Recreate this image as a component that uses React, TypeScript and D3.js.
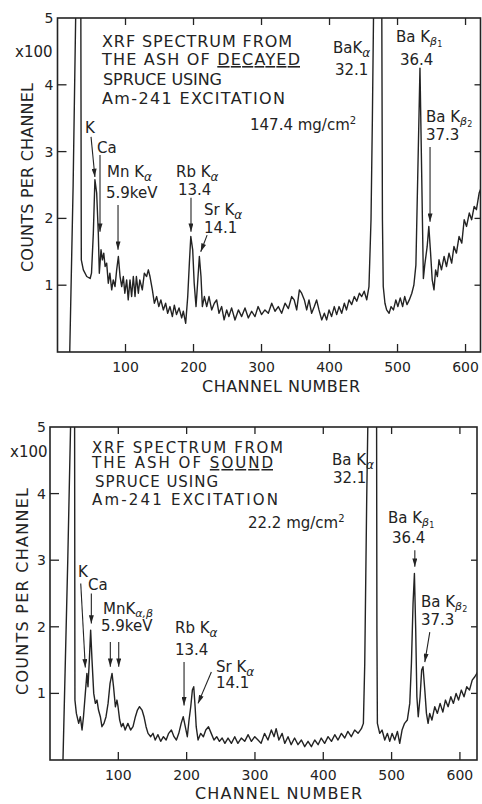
import React from "react";
import * as d3 from "d3";

// channel numbers on the x axis, counts (x100) on the y axis
const xTicks = [100, 200, 300, 400, 500, 600];
const yTicks = [1, 2, 3, 4, 5];

// decayed spruce ash, 147.4 mg/cm2  [channel, counts x100]
const decayedSpectrum: [number, number][] = [
  [18, 0], [23, 2.5], [27, 5.2], [30.5, 9], [34.3, 5.2], [35, 1.38], [38, 1.23], [43, 1.13], [48, 1.1],
  [50, 1.18], [52.7, 1.78], [55, 2.58], [57.6, 2.38], [59, 2.03], [60, 1.78], [61.5, 1.18], [64, 1.53],
  [66, 1.38], [68, 1.48], [70, 1.28], [72.3, 1.33], [74.7, 1.03], [77, 1.18], [79.7, 0.93], [82, 1.08],
  [84.6, 0.98], [87, 1.23], [89.5, 1.43], [92, 1.13], [94.4, 0.98], [96.8, 1.13], [99, 0.88], [101.7, 1.08],
  [104, 0.78], [106.6, 1.08], [109, 0.83], [111.5, 1.13], [114, 0.83], [116, 1.13], [118.9, 0.88],
  [121, 1.08], [124.7, 0.93], [127.7, 1.18], [131, 1.13], [133.6, 1.23], [136, 1.13], [139.5, 0.93],
  [142.4, 0.73], [145.8, 0.83], [149, 0.68], [152, 0.78], [155.6, 0.63], [159, 0.73], [162, 0.58],
  [165.4, 0.68], [168.9, 0.53], [171.8, 0.7], [175, 0.56], [178.7, 0.66], [182.6, 0.51], [185, 0.61],
  [188.5, 0.43], [191.5, 0.83], [193.9, 1.33], [196, 1.73], [198.8, 1.53], [201, 1.03], [203.7, 0.68],
  [206, 1.03], [208.6, 1.43], [211, 1.13], [213, 0.68], [216, 0.83], [219.4, 0.68], [222.8, 0.83],
  [226.7, 0.63], [230.6, 0.73], [234, 0.78], [237.5, 0.58], [241.4, 0.68], [245, 0.48], [248.8, 0.63],
  [252, 0.53], [256, 0.66], [261, 0.48], [266, 0.63], [270.8, 0.53], [275.7, 0.66], [280.6, 0.51],
  [285.5, 0.61], [290.4, 0.53], [295, 0.68], [300, 0.56], [305, 0.63], [310, 0.58], [315, 0.73],
  [319.8, 0.61], [324.7, 0.68], [329.6, 0.58], [334.6, 0.73], [339.5, 0.65], [344.4, 0.83], [348, 0.78],
  [351.7, 0.63], [355.7, 0.93], [359, 0.88], [363, 0.78], [366.4, 0.63], [369.8, 0.78], [373.7, 0.58],
  [377.6, 0.68], [381, 0.78], [384.5, 0.63], [388.5, 0.48], [392.4, 0.58], [395.8, 0.48], [399.3, 0.63],
  [403, 0.53], [407, 0.68], [410.5, 0.56], [414, 0.68], [417.9, 0.58], [421.8, 0.73], [425, 0.63],
  [428.7, 0.78], [432.6, 0.71], [436.5, 0.83], [440, 0.76], [443.9, 0.88], [447.3, 0.83], [451, 0.91],
  [454.7, 0.78], [458, 0.98], [461, 1.98], [463, 3.48], [465, 5.3], [471, 9], [476.8, 5.3], [477.8, 1.98],
  [479, 0.98], [481.5, 0.73], [484, 0.63], [487.6, 0.58], [490.5, 0.68], [494, 0.63], [497.5, 0.78],
  [500.5, 0.68], [504, 0.81], [507.5, 0.68], [510.5, 0.83], [513.9, 0.71], [517.3, 0.78], [521, 0.88],
  [524, 1.0], [527, 1.3], [533, 4.25], [538, 1.1], [540, 1.3], [543.6, 1.58], [546, 1.88], [548.6, 1.48],
  [551, 1.08], [553.6, 0.93], [556, 1.23], [558.6, 1.13], [561, 1.38], [564.6, 1.23], [568.5, 1.43],
  [572, 1.28], [575.7, 1.48], [579.6, 1.33], [583, 1.58], [586.6, 1.48], [590.5, 1.73], [594.5, 1.63],
  [598, 1.98], [601.5, 1.88], [605.5, 2.08], [609, 1.98], [612.7, 2.18], [616, 2.13], [620, 2.38],
  [623.8, 2.48],
];

// sound spruce ash, 22.2 mg/cm2
const soundSpectrum: [number, number][] = [
  [19, 0], [26, 3], [30.5, 5.2], [33, 9], [36, 5.2], [36.5, 0.9], [38.6, 0.7], [42, 0.55], [44.4, 0.65],
  [46.9, 0.45], [49, 0.65], [51.7, 1.0], [54, 1.3], [55.6, 1.1], [57.6, 1.5], [59.5, 1.95], [61.5, 1.5],
  [64, 1.0], [66.4, 0.85], [68.8, 0.9], [71, 0.75], [73.7, 0.65], [76, 0.5], [79, 0.55], [82, 0.65],
  [85, 0.85], [87.9, 1.15], [90.8, 1.3], [93, 1.1], [95.7, 0.8], [98, 0.9], [99.6, 0.8], [102, 0.6],
  [104.5, 0.5], [107, 0.55], [110, 0.45], [114, 0.55], [118, 0.45], [121.5, 0.5], [125, 0.65], [128, 0.75],
  [131, 0.8], [134.7, 0.75], [137.6, 0.65], [140.6, 0.5], [143.5, 0.4], [147.4, 0.35], [150.8, 0.4],
  [154, 0.3], [158, 0.38], [162, 0.28], [166, 0.35], [170, 0.3], [173.7, 0.4], [177.7, 0.45], [181.5, 0.35],
  [185, 0.3], [188.5, 0.4], [192, 0.55], [195, 0.65], [198, 0.5], [201, 0.35], [203.5, 0.6], [206, 0.8],
  [208.4, 1.05], [210.4, 1.1], [212.4, 0.8], [214, 0.5], [216.7, 0.3], [220.6, 0.4], [224.5, 0.35],
  [228, 0.45], [232, 0.5], [236, 0.4], [240, 0.3], [244, 0.35], [248, 0.28], [252, 0.33], [256, 0.25],
  [260.6, 0.33], [265.5, 0.25], [270.4, 0.35], [275, 0.25], [280, 0.33], [285, 0.28], [290, 0.38],
  [294.8, 0.28], [299.7, 0.35], [304.5, 0.3], [309, 0.25], [314, 0.4], [319, 0.3], [324, 0.45], [328, 0.35],
  [331, 0.47], [335, 0.3], [339.8, 0.4], [343.6, 0.25], [348.4, 0.35], [353, 0.23], [358, 0.33], [363, 0.23],
  [368, 0.3], [372.8, 0.2], [377.7, 0.28], [382.6, 0.2], [387.5, 0.3], [392.4, 0.23], [397, 0.33],
  [402, 0.25], [407, 0.35], [412, 0.28], [416.8, 0.38], [421.6, 0.3], [426.5, 0.4], [431.4, 0.33],
  [436, 0.43], [441, 0.35], [446, 0.45], [450.9, 0.4], [455.8, 0.47], [458.7, 0.55], [460.7, 1.45],
  [463.6, 3.95], [465.6, 5.3], [472, 9], [478, 5.3], [478.5, 1.95], [479.2, 0.55], [482.6, 0.4], [486, 0.45],
  [490, 0.3], [493.9, 0.4], [497.3, 0.28], [500.7, 0.4], [504.6, 0.3], [508.5, 0.43], [511.9, 0.25],
  [515.3, 0.45], [519, 0.55], [523, 0.6], [526.6, 0.85], [529, 1.45], [531.4, 2.35], [533.4, 2.8],
  [535.3, 1.95], [537, 0.95], [539, 0.65], [541.7, 0.95], [544, 1.35], [546, 1.4], [548.6, 1.05],
  [551, 0.7], [553.4, 0.55], [555.8, 0.7], [559, 0.6], [563.2, 0.8], [567, 0.7], [571, 0.85], [575, 0.72],
  [578.8, 0.9], [582.7, 0.8], [586.7, 0.95], [590.5, 0.85], [594.4, 1.0], [598, 0.9], [602, 1.05],
  [606, 0.95], [610, 1.1], [614, 1.05], [618, 1.2], [621.8, 1.25], [626, 1.32],
];

// annotation arrows in data units: [ch from, counts from, ch to, counts to]
const decayedArrows: [number, number, number, number][] = [
  [49.3, 3.22, 55, 2.62],
  [62.5, 2.95, 62.5, 1.8],
  [89, 2.2, 89, 1.53],
  [196.3, 2.31, 196.3, 1.8],
  [220, 1.75, 210.6, 1.5],
  [547.8, 3.07, 547.8, 1.95],
];
const soundArrows: [number, number, number, number][] = [
  [45, 2.65, 51.7, 1.39],
  [60.5, 2.5, 60.5, 2.05],
  [88.3, 1.77, 88.3, 1.4],
  [100.6, 1.77, 100.6, 1.4],
  [196.2, 1.47, 196.2, 0.82],
  [236.2, 1.32, 216.7, 0.85],
  [534, 3.15, 534, 2.9],
  [555.9, 1.92, 548.6, 1.47],
];

const FONT = "'DejaVu Sans', sans-serif";
const INK = "#232323";

type Frame = { left: number; right: number; top: number; bottom: number; xMax: number };

function Kalpha({ x, y, pre }: { x: number; y: number; pre: string }) {
  return (
    <text x={x} y={y} fontSize={15}>
      {pre}K
      <tspan fontSize={12} dy={4} fontStyle="italic">α</tspan>
    </text>
  );
}

function Kbeta({ x, y, n }: { x: number; y: number; n: string }) {
  return (
    <text x={x} y={y} fontSize={15}>
      Ba K
      <tspan fontSize={11} dy={3} fontStyle="italic">β</tspan>
      <tspan fontSize={8} dy={2}>{n}</tspan>
    </text>
  );
}

function Panel({ frame, spectrum, arrows, id, children }: {
  frame: Frame; spectrum: [number, number][]; arrows: [number, number, number, number][];
  id: string; children: React.ReactNode;
}) {
  const x = d3.scaleLinear().domain([0, frame.xMax]).range([frame.left, frame.right]);
  const y = d3.scaleLinear().domain([0, 5]).range([frame.bottom, frame.top]);
  const line = d3.line<[number, number]>().x(d => x(d[0])).y(d => y(d[1]));

  return (
    <g>
      <clipPath id={id}>
        <rect x={frame.left} y={frame.top} width={frame.right - frame.left} height={frame.bottom - frame.top} />
      </clipPath>
      <path d={line(spectrum) || ""} fill="none" stroke={INK} strokeWidth={1.4} strokeLinejoin="round" clipPath={`url(#${id})`} />
      <rect x={frame.left} y={frame.top} width={frame.right - frame.left} height={frame.bottom - frame.top}
        fill="none" stroke={INK} strokeWidth={1.6} />
      {xTicks.map(t => (
        <g key={"x" + t}>
          <line x1={x(t)} x2={x(t)} y1={frame.bottom} y2={frame.bottom - 8} stroke={INK} strokeWidth={1.3} />
          <line x1={x(t)} x2={x(t)} y1={frame.top} y2={frame.top + 7} stroke={INK} strokeWidth={1.3} />
          <text x={x(t)} y={frame.bottom + 20} fontSize={14} textAnchor="middle">{t}</text>
        </g>
      ))}
      {yTicks.map(t => (
        <g key={"y" + t}>
          {t < 5 && <line x1={frame.left} x2={frame.left + 9} y1={y(t)} y2={y(t)} stroke={INK} strokeWidth={1.3} />}
          {t < 5 && <line x1={frame.right} x2={frame.right - 6} y1={y(t)} y2={y(t)} stroke={INK} strokeWidth={1.3} />}
          <text x={frame.left - 4} y={y(t) + 5} fontSize={14} textAnchor="end">{t}</text>
        </g>
      ))}
      {arrows.map((a, i) => (
        <line key={"a" + i} x1={x(a[0])} y1={y(a[1])} x2={x(a[2])} y2={y(a[3])}
          stroke={INK} strokeWidth={1.1} markerEnd="url(#head)" />
      ))}
      {children}
    </g>
  );
}

export default function App() {
  const top: Frame = { left: 57.5, right: 480.5, top: 18, bottom: 352, xMax: 622 };
  const bottom: Frame = { left: 50, right: 477, top: 427, bottom: 760, xMax: 625 };

  return (
    <div style={{ position: "absolute", left: 0, top: 0 }}>
      <svg width={482} height={804} style={{ display: "block", background: "#fff" }}
        fontFamily={FONT} fill={INK}>
        <defs>
          <marker id="head" viewBox="0 0 10 6" refX={10} refY={3} markerWidth={9} markerHeight={5}
            markerUnits="userSpaceOnUse" orient="auto">
            <path d="M0,0 L10,3 L0,6 z" fill={INK} />
          </marker>
        </defs>

        <Panel frame={top} spectrum={decayedSpectrum} arrows={decayedArrows} id="clipTop">
          <text x={15} y={57} fontSize={15}>x100</text>
          <text transform="translate(33,177.5) rotate(-90)" fontSize={16} textAnchor="middle"
            textLength={189} lengthAdjust="spacing">COUNTS PER CHANNEL</text>
          <text x={202} y={392} fontSize={16} textLength={158} lengthAdjust="spacing">CHANNEL NUMBER</text>
          <text x={102} y={47} fontSize={16} textLength={190} lengthAdjust="spacing">XRF SPECTRUM FROM</text>
          <text x={102} y={65} fontSize={16} textLength={198} lengthAdjust="spacing">
            THE ASH OF <tspan style={{ textDecoration: "underline" }}>DECAYED</tspan>
          </text>
          <text x={103} y={85} fontSize={16} textLength={119} lengthAdjust="spacing">SPRUCE USING</text>
          <text x={102} y={103.5} fontSize={16} textLength={183} lengthAdjust="spacing">Am-241 EXCITATION</text>
          <text x={250} y={130} fontSize={15}>147.4 mg/cm<tspan fontSize={10} dy={-6}>2</tspan></text>
          <Kalpha x={333} y={53} pre="Ba" />
          <text x={335} y={75} fontSize={15}>32.1</text>
          <Kbeta x={396} y={42} n="1" />
          <text x={400} y={65} fontSize={15}>36.4</text>
          <Kbeta x={426} y={122} n="2" />
          <text x={426} y={140} fontSize={15}>37.3</text>
          <text x={85} y={133} fontSize={15}>K</text>
          <text x={97} y={153} fontSize={15}>Ca</text>
          <Kalpha x={107} y={177} pre="Mn " />
          <text x={106} y={198} fontSize={15}>5.9keV</text>
          <Kalpha x={176} y={177} pre="Rb " />
          <text x={178} y={195} fontSize={15}>13.4</text>
          <Kalpha x={204} y={215} pre="Sr " />
          <text x={204} y={233} fontSize={15}>14.1</text>
        </Panel>

        <Panel frame={bottom} spectrum={soundSpectrum} arrows={soundArrows} id="clipBottom">
          <text x={10} y={457} fontSize={15}>x100</text>
          <text transform="translate(28,591.5) rotate(-90)" fontSize={16} textAnchor="middle"
            textLength={207} lengthAdjust="spacing">COUNTS PER CHANNEL</text>
          <text x={195} y={799} fontSize={16} textLength={167} lengthAdjust="spacing">CHANNEL NUMBER</text>
          <text x={92} y={453} fontSize={15} textLength={191} lengthAdjust="spacing">XRF SPECTRUM FROM</text>
          <text x={92} y={468} fontSize={15} textLength={181} lengthAdjust="spacing">
            THE ASH OF <tspan style={{ textDecoration: "underline" }}>SOUND</tspan>
          </text>
          <text x={95} y={487} fontSize={15} textLength={123} lengthAdjust="spacing">SPRUCE USING</text>
          <text x={92} y={505} fontSize={15} textLength={186} lengthAdjust="spacing">Am-241 EXCITATION</text>
          <text x={248} y={528} fontSize={15}>22.2 mg/cm<tspan fontSize={10} dy={-6}>2</tspan></text>
          <Kalpha x={332} y={465} pre="Ba " />
          <text x={333} y={483} fontSize={15}>32.1</text>
          <Kbeta x={388} y={523} n="1" />
          <text x={392} y={543} fontSize={15}>36.4</text>
          <Kbeta x={421} y={607} n="2" />
          <text x={421} y={625} fontSize={15}>37.3</text>
          <text x={78} y={577} fontSize={15}>K</text>
          <text x={88} y={590} fontSize={15}>Ca</text>
          <text x={103} y={614} fontSize={15}>
            MnK<tspan fontSize={11} dy={3} fontStyle="italic">α,β</tspan>
          </text>
          <text x={101} y={631} fontSize={15}>5.9keV</text>
          <Kalpha x={175} y={633} pre="Rb " />
          <text x={175} y={655} fontSize={15}>13.4</text>
          <Kalpha x={216} y={672} pre="Sr " />
          <text x={216} y={688} fontSize={15}>14.1</text>
        </Panel>
      </svg>
    </div>
  );
}
